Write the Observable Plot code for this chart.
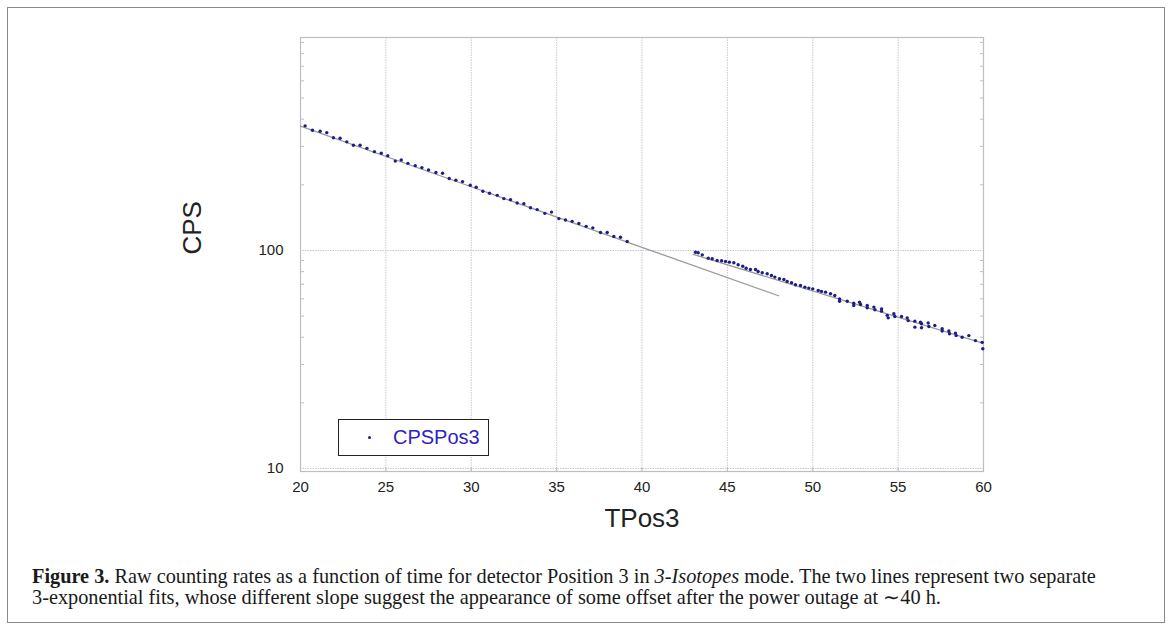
<!DOCTYPE html>
<html>
<head>
<meta charset="utf-8">
<script src="https://cdn.jsdelivr.net/npm/d3@7"></script>
<script src="https://cdn.jsdelivr.net/npm/@observablehq/plot@0.6"></script>
<style>
  html, body { margin: 0; padding: 0; background: #fff; }
  #wrap { position: relative; width: 1169px; height: 628px; overflow: hidden; background: #fff; }
  #frame { position: absolute; left: 7px; top: 7px; width: 1158px; height: 616px; border: 1.5px solid #8a8a8a; box-sizing: border-box; }
  #chart { position: absolute; left: 0; top: 0; }
  #legend { position: absolute; left: 338px; top: 419px; width: 151px; height: 37px; border: 1.5px solid #222; box-sizing: border-box; background: #fff;
            font-family: "Liberation Sans", Arial, sans-serif; font-size: 20px; color: #2f22c4; }
  #legend .dot { position: absolute; left: 29px; top: 16px; width: 3px; height: 3px; background: #1c1c8c; border-radius: 50%; }
  #legend .lab { position: absolute; left: 54px; top: 6px; line-height: 22px; }
  #caption { position: absolute; left: 32px; top: 566px; width: 1125px; white-space: nowrap; font-family: "Liberation Serif", "Times New Roman", serif; font-size: 20.3px; line-height: 21px; color: #1a1a1a; }
</style>
</head>
<body>
<div id="wrap">
  <div id="chart"></div>
  <div id="legend"><span class="dot"></span><span class="lab">CPSPos3</span></div>
  <div id="caption"><b>Figure 3.</b> Raw counting rates as a function of time for detector Position 3 in <i>3-Isotopes</i> mode. The two lines represent two separate<br>3-exponential fits, whose different slope suggest the appearance of some offset after the power outage at ∼40 h.</div>
  <div id="frame"></div>
</div>
<script>
// ---- data ----
const timeA = [20.27,20.70,21.15,21.54,21.93,22.32,22.71,23.10,23.49,23.89,24.33,24.73,25.11,25.55,25.90,26.29,26.72,27.11,27.50,27.93,28.32,28.71,29.10,29.49,29.94,30.29,30.68,31.07,31.52,31.91,32.30,32.69,33.08,33.47,33.86,34.31,34.70,35.13,35.52,35.91,36.30,36.73,37.12,37.57,37.96,38.35,38.74,39.13];
const cpsA  = [373,356,352,347,329,327,315,304,304,294,284,279,272,257,260,251,245,240,234,228,226,214,210,207,199,195,187,183,179,173,171,165,164,157,154,148,150,140,138,136,133,129,127,121,121,116,115,110];

const timeB = [43.13,43.29,43.53,43.88,44.11,44.40,44.66,44.89,45.12,45.38,45.63,45.90,46.10,46.35,46.65,46.80,47.04,47.33,47.58,47.78,48.05,48.31,48.50,48.76,48.99,49.28,49.54,49.77,50.00,50.32,50.51,50.75,51.04,51.29,51.57,51.57,52.02,52.40,52.40,52.74,52.80,53.19,53.19,53.58,53.64,54.03,54.03,54.36,54.42,54.75,54.81,55.20,55.53,55.59,55.98,55.98,56.31,56.37,56.37,56.76,56.80,57.15,57.58,57.58,57.97,58.01,58.36,58.40,58.75,59.14,59.53,59.92,59.96];
const cpsB  = [98.2,97.6,95.5,92.2,91.6,90.0,89.7,89.1,88.4,87.9,86.0,84.7,82.9,81.8,81.8,80.1,79.0,78.2,76.8,75.5,74.2,73.6,72.1,71.1,69.6,69.1,67.9,67.2,66.7,65.6,64.9,64.4,63.3,62.2,60.0,58.5,58.5,57.3,55.9,57.9,56.5,55.9,54.6,55.0,53.5,54.0,52.7,50.4,49.1,51.3,49.8,49.8,49.1,47.7,47.4,44.5,46.9,46.1,44.2,46.5,44.8,45.3,43.8,42.7,42.7,41.5,41.8,40.7,40.0,40.7,38.6,37.9,35.4];

const fit1Time = [20, 30, 40, 48];
const fit1Cps  = [372, 196, 103.4, 62];
const fit2Time = [43, 51.5, 60];
const fit2Cps  = [96, 60, 37.5];

const xTicks = [20, 25, 30, 35, 40, 45, 50, 55, 60];
const xGridTicks = [25, 30, 35, 40, 45, 50, 55];
const yTicks = [10, 100];
const yMinor = [20,30,40,50,60,70,80,90,200,300,400,500,600,700,800,900];
const xLabel = "TPos3";
const yLabel = "CPS";

// ---- tables ----
const ptsA = timeA.map((t, i) => ({t, c: cpsA[i]}));
const ptsB = timeB.map((t, i) => ({t, c: cpsB[i]}));
const fit1 = fit1Time.map((t, i) => ({t, c: fit1Cps[i]}));
const fit2 = fit2Time.map((t, i) => ({t, c: fit2Cps[i]}));

const gridColor = "#c6c8d6";
const axisColor = "#bcbdc6";
const dotColor = "#1c1c8c";

const chart = Plot.plot({
  width: 1169,
  height: 545,
  marginLeft: 300,
  marginRight: 186,
  marginTop: 37,
  marginBottom: 74,
  x: {domain: [20, 60]},
  y: {type: "log", domain: [9.69, 948]},
  style: {fontFamily: "'Liberation Sans', Arial, sans-serif", background: "transparent", color: "#222"},
  marks: [
    Plot.gridX(xGridTicks, {stroke: gridColor, strokeOpacity: 1, strokeWidth: 1, strokeDasharray: "1.5,1"}),
    Plot.gridY(yTicks, {stroke: gridColor, strokeOpacity: 1, strokeWidth: 1, strokeDasharray: "1.5,1"}),
    Plot.frame({stroke: axisColor, strokeWidth: 1.2}),
    Plot.axisY(yMinor, {anchor: "left", tickSize: -4, tickFormat: () => "", stroke: axisColor, label: null}),
    Plot.axisY(yMinor, {anchor: "right", tickSize: -4, tickFormat: () => "", stroke: axisColor, label: null}),
    Plot.axisY(yTicks, {anchor: "left", tickSize: 0, tickPadding: 17, fontSize: 15, tickFormat: d => String(d), label: null}),
    Plot.axisX(xTicks, {anchor: "bottom", tickSize: -4, stroke: axisColor, tickFormat: () => "", label: null}),
    Plot.axisX(xTicks, {anchor: "bottom", tickSize: 0, tickPadding: 10, fontSize: 15, tickFormat: d => String(d), label: null}),
    Plot.text([xLabel], {frameAnchor: "bottom", dy: 47, lineAnchor: "middle", fontSize: 26, fill: "#222"}),
    Plot.text([yLabel], {frameAnchor: "left", dx: -108, rotate: -90, lineAnchor: "middle", fontSize: 26, fill: "#222"}),
    Plot.line(fit1, {x: "t", y: "c", stroke: "#9a9a9a", strokeWidth: 1.3}),
    Plot.line(fit2, {x: "t", y: "c", stroke: "#9a9a9a", strokeWidth: 1.3}),
    Plot.dot(ptsA, {x: "t", y: "c", r: 1.7, fill: dotColor, stroke: null}),
    Plot.dot(ptsB, {x: "t", y: "c", r: 1.7, fill: dotColor, stroke: null})
  ]
});
document.getElementById("chart").appendChild(chart);
</script>
</body>
</html>
